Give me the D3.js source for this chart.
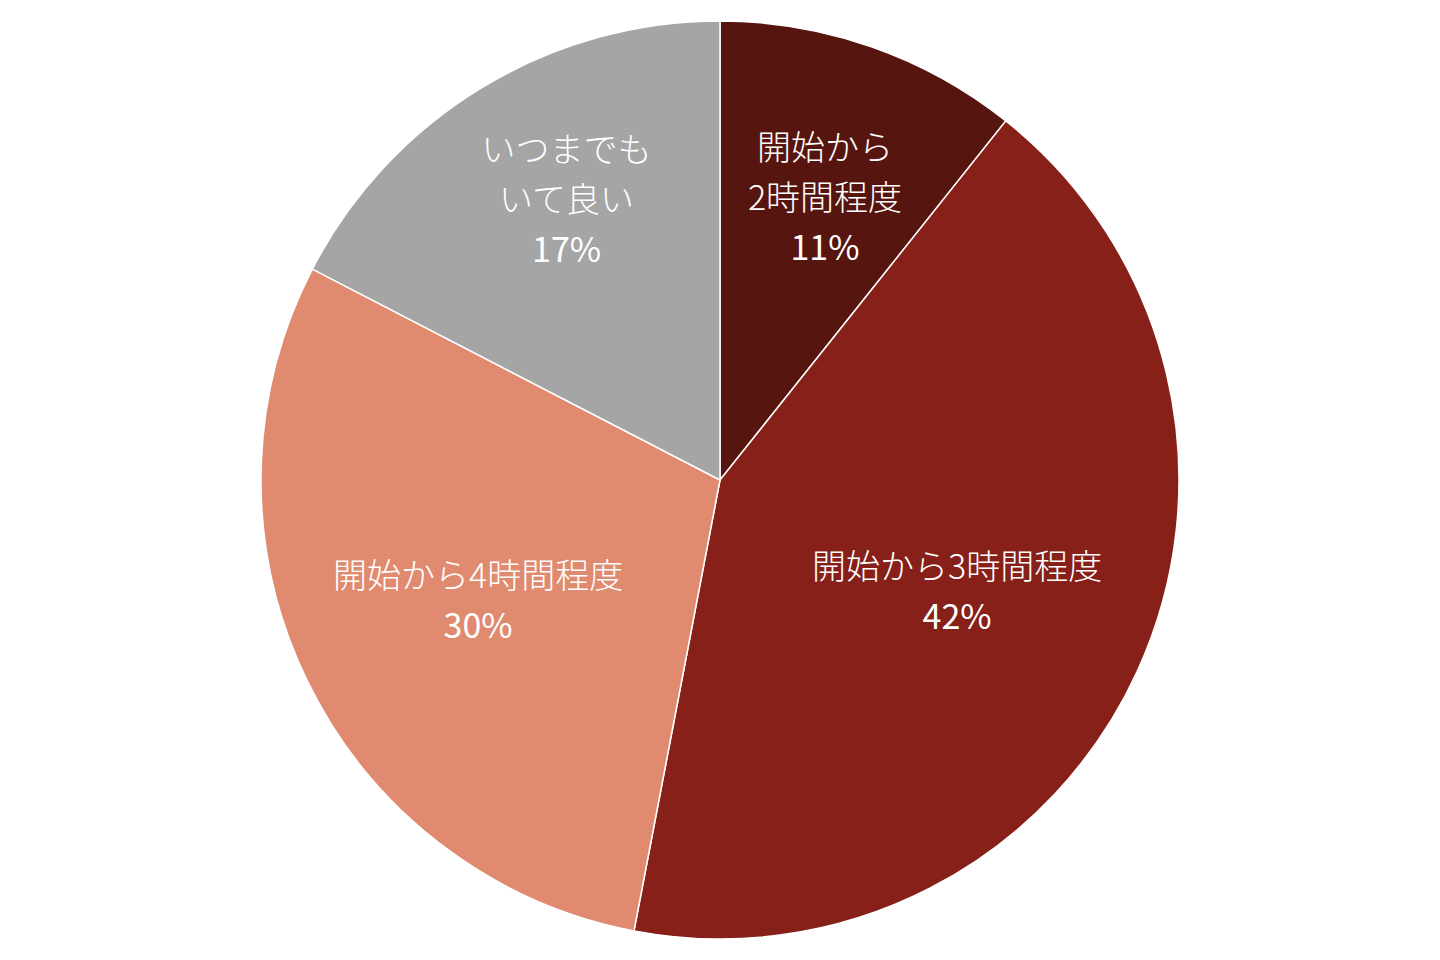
<!DOCTYPE html>
<html lang="ja">
<head>
<meta charset="UTF-8">
<title>Pie</title>
<script src="https://cdn.jsdelivr.net/npm/d3@7"></script>
<style>
    body { margin: 0; background: #fff; }
    svg { display: block; }
    .lbl { font-family: "Noto Sans CJK JP", sans-serif; font-weight: 300; fill: #fff; font-size: 34px; }
    .pct { font-weight: 400; }
</style>
</head>
<body>
<svg width="1440" height="960"></svg>
<script>
    // slices, clockwise from 12 o'clock
    const labels = [["開始から", "2時間程度"], ["開始から3時間程度"], ["開始から4時間程度"], ["いつまでも", "いて良い"]];
    const values = [10.7, 42.3, 29.6, 17.4];
    const pctText = ["11%", "42%", "30%", "17%"];
    const colors = ["#56150e", "#862018", "#e08b6f", "#a5a5a5"];

    const cx = 720, cy = 480, radius = 459;
    const svg = d3.select("svg");
    const g = svg.append("g").attr("transform", `translate(${cx},${cy})`);

    const pie = d3.pie().sort(null).value(d => d)(values);
    const arc = d3.arc().innerRadius(0).outerRadius(radius);

    g.selectAll("path")
        .data(pie)
        .join("path")
        .attr("d", arc)
        .attr("fill", (d, i) => colors[i])
        .attr("stroke", "#fff")
        .attr("stroke-width", 1.5);

    // label placement: radius fraction and small angle nudge (radians)
    const labelR = [0.656, 0.571, 0.589, 0.695];
    const nudge = [0.02, 0.01, -0.01, 0.045];
    const lineH = 50;

    pie.forEach((d, i) => {
        const a = (d.startAngle + d.endAngle) / 2 + nudge[i];
        const r = radius * labelR[i];
        const x = r * Math.sin(a), y = -r * Math.cos(a);
        const lines = labels[i].concat([pctText[i]]);
        const t = g.append("text")
            .attr("class", "lbl")
            .attr("text-anchor", "middle")
            .attr("transform", `translate(${x},${y})`);
        lines.forEach((s, k) => {
            t.append("tspan")
                .attr("class", k === lines.length - 1 ? "pct" : null)
                .attr("x", 0)
                .attr("y", (k - (lines.length - 1) / 2) * lineH)
                .attr("dy", "0.35em")
                .text(s);
        });
    });
</script>
</body>
</html>
